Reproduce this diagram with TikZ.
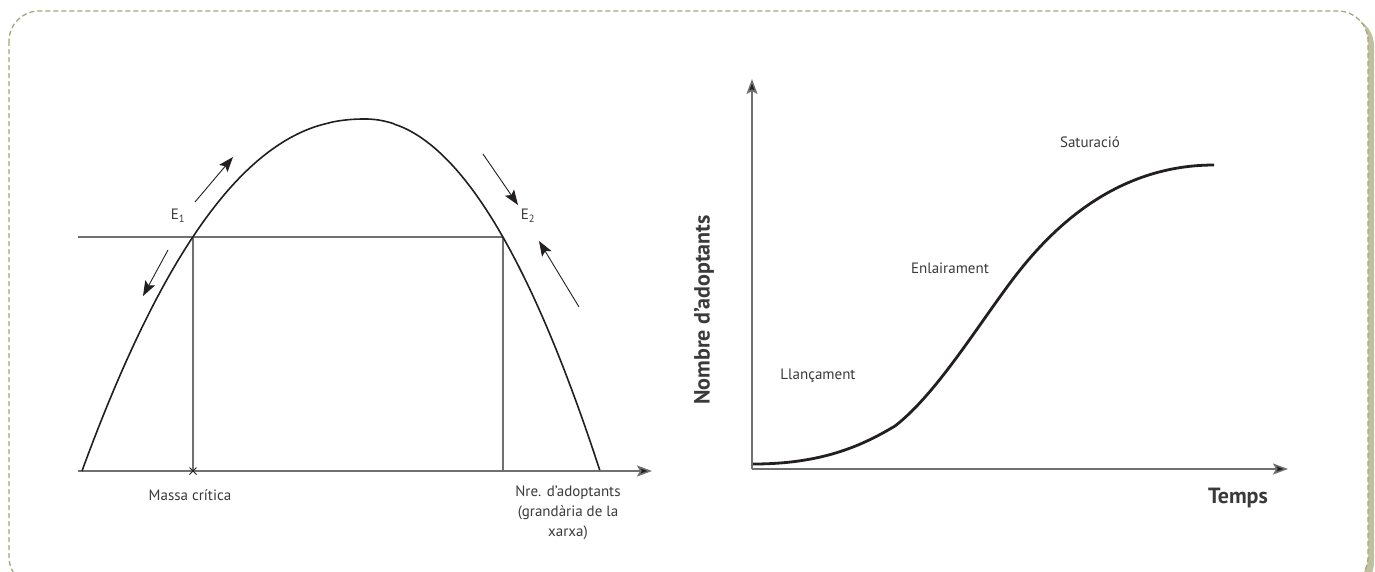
\documentclass[tikz,border=0pt]{standalone}
\usepackage{fontspec}
\setmainfont{PT Sans}
\usetikzlibrary{arrows.meta,calc}
\definecolor{framecol}{HTML}{A4A77C}
\definecolor{shadowcol}{HTML}{BFC09E}
\definecolor{axiscol}{HTML}{707070}
\definecolor{txtcol}{HTML}{3A3A3A}
\definecolor{curvecol}{HTML}{231F20}
\tikzset{
  axisline/.style={draw=axiscol, line width=1.5pt},
  axisarrow/.style={axisline, -{Stealth[length=15pt,width=11pt,inset=3pt,fill=curvecol]}},
  thinarrow/.style={draw=curvecol, line width=0.9pt, -{Stealth[length=15pt,width=11pt,inset=3pt]}},
  lbl/.style={text=txtcol, font=\fontsize{15}{20}\selectfont, inner sep=0pt, align=center},
  biglbl/.style={text=txtcol, font=\fontsize{22}{24}\selectfont\bfseries, inner sep=0pt},
  guide/.style={draw=axiscol, line width=1.3pt}
}
\begin{document}
\begin{tikzpicture}[x=1pt,y=-1pt]
\useasboundingbox (0,0) rectangle (1375,571);
% frame
\fill[shadowcol, rounded corners=30pt] (13,16) rectangle (1374,592);
\fill[white, rounded corners=30pt] (9,11) rectangle (1368,587);
\draw[framecol, line width=1.3pt, dash pattern=on 5pt off 3pt, rounded corners=30pt] (9,11) rectangle (1368,587);

% ---------- left chart ----------
\coordinate (xo) at (78,471);
\coordinate (xe) at (652,471);
\draw[axisarrow] (xo) -- (xe);
\coordinate (E1) at (193,237);
\coordinate (E2) at (503,237);
\coordinate (hl) at (78,237);
\coordinate (mc) at (193,471);
\coordinate (na) at (503,471);
\draw[guide] (hl) -- (E2);
\draw[guide] (E1) -- (mc);
\draw[guide] (E2) -- (na);
\draw[curvecol, line width=1.6pt]
  plot[domain=1:0.002, samples=120] ({365-283*\x}, {119+352*(\x)^2.2})
  -- plot[domain=0.002:1, samples=120] ({365+235*\x}, {119+352*(\x)^2.05});
\draw[curvecol, line width=1pt] ($(mc)+(-3.5,-3.5)$) -- ($(mc)+(3.5,3.5)$) ($(mc)+(-3.5,3.5)$) -- ($(mc)+(3.5,-3.5)$);

\coordinate (a1s) at (195,202); \coordinate (a1e) at (233,157);
\coordinate (a2s) at (168,250); \coordinate (a2e) at (143,296);
\coordinate (a3s) at (483,154); \coordinate (a3e) at (518,205);
\coordinate (a4s) at (579,307); \coordinate (a4e) at (539,241);
\draw[thinarrow] (a1s) -- (a1e);
\draw[thinarrow] (a2s) -- (a2e);
\draw[thinarrow] (a3s) -- (a3e);
\draw[thinarrow] (a4s) -- (a4e);
\node[lbl] (e1lbl) at (178,216) {E\textsubscript{1}};
\node[lbl] (e2lbl) at (528,216) {E\textsubscript{2}};
\node[lbl] (mclbl) at (190,495) {Massa crítica};
\node[lbl, anchor=north] (nalbl) at (568,486) {Nre. d’adoptants\\(grandària de la\\xarxa)};

% ---------- right chart ----------
\coordinate (o2) at (752,469);
\coordinate (ye) at (752,79);
\coordinate (xe2) at (1288,469);
\draw[axisarrow] (o2) -- (ye);
\draw[axisarrow] (o2) -- (xe2);
\coordinate (s0) at (753,464);
\coordinate (s1) at (895,426);
\coordinate (s2) at (1010,283);
\coordinate (s3) at (1214,165);
\draw[curvecol, line width=2.8pt, line join=round]
  (s0) .. controls (820,464) and (860,447) .. (s1)
       .. controls (935,395) and (975,330) .. (s2)
       .. controls (1045,236) and (1110,165) .. (s3);
\node[lbl] (l1) at (818,376) {Llançament};
\node[lbl] (l2) at (950,268) {Enlairament};
\node[lbl] (l3) at (1090,142) {Saturació};
\node[biglbl, rotate=90] (ylbl) at (704,310) {Nombre d’adoptants};
\node[biglbl] (xlbl) at (1238,498) {Temps};
\end{tikzpicture}
\end{document}
